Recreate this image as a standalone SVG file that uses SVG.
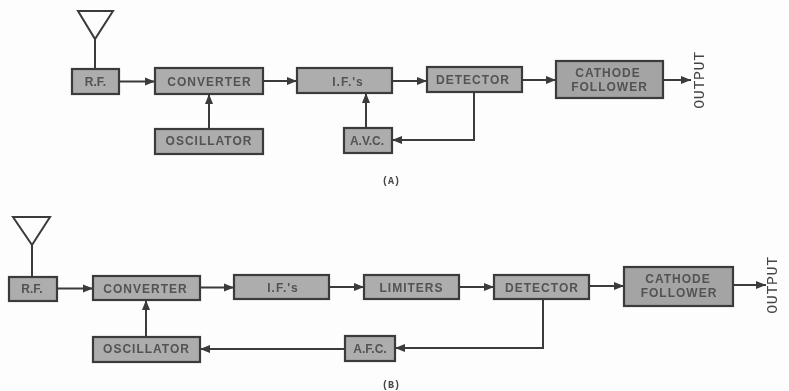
<svg xmlns="http://www.w3.org/2000/svg" width="789" height="391" viewBox="0 0 789 391">
<style>
.b{fill:#adadad;stroke:#3a3a3a;stroke-width:2.2}
.d{fill:#a4a4a4}
.t{font-family:"Liberation Sans",Arial,sans-serif;font-size:12px;font-weight:bold;fill:#525252;text-anchor:middle;letter-spacing:1px}
.n{letter-spacing:0}
.c{fill:none;stroke:#3a3a3a;stroke-width:2}
.a{fill:none;stroke:#3a3a3a;stroke-width:2}
.o{font-family:"Liberation Mono","DejaVu Sans Mono",monospace;font-size:15px;fill:#444;text-anchor:middle;letter-spacing:.6px}
.g{font-family:"Liberation Mono","DejaVu Sans Mono",monospace;font-size:10px;font-weight:bold;fill:#444;text-anchor:middle}
</style>
<defs>
<marker id="ah" markerUnits="userSpaceOnUse" markerWidth="11" markerHeight="9" refX="10" refY="4.5" orient="auto"><path d="M0 0.5L10 4.5L0 8.5z" fill="#3a3a3a"/></marker>
<filter id="s" x="-2%" y="-2%" width="104%" height="104%"><feGaussianBlur stdDeviation="0.45"/></filter>
</defs>
<rect width="789" height="391" fill="#fdfdfd"/>
<g filter="url(#s)">
<g id="connectors">
<path class="a" d="M78 11H113L95 39Z"/><path class="c" d="M95 39V69"/>
<path class="c" marker-end="url(#ah)" d="M119 81.500H155"/>
<path class="c" marker-end="url(#ah)" d="M263 81H297"/>
<path class="c" marker-end="url(#ah)" d="M392 81H427"/>
<path class="c" marker-end="url(#ah)" d="M522 80H556"/>
<path class="c" marker-end="url(#ah)" d="M663 80H691"/>
<path class="c" marker-end="url(#ah)" d="M209 129V94"/>
<path class="c" marker-end="url(#ah)" d="M366 128V93"/>
<path class="c" marker-end="url(#ah)" d="M474 92V140H392"/>
<path class="a" d="M13 217H50L32 245Z"/><path class="c" d="M32 245V277"/>
<path class="c" marker-end="url(#ah)" d="M57 288.500H93"/>
<path class="c" marker-end="url(#ah)" d="M200 287.500H234"/>
<path class="c" marker-end="url(#ah)" d="M329 287H364"/>
<path class="c" marker-end="url(#ah)" d="M459 287H494"/>
<path class="c" marker-end="url(#ah)" d="M589 286H624"/>
<path class="c" marker-end="url(#ah)" d="M733 285H766"/>
<path class="c" marker-end="url(#ah)" d="M146 337V300"/>
<path class="c" marker-end="url(#ah)" d="M345 349H200"/>
<path class="c" marker-end="url(#ah)" d="M543 299V348H395"/>
</g>
<g id="a-rf"><rect class="b" x="72" y="69" width="47" height="25"/><text class="t n" x="95.500" y="86">R.F.</text></g>
<g id="a-converter"><rect class="b" x="155" y="68" width="108" height="26"/><text class="t" x="209.500" y="85.500">CONVERTER</text></g>
<g id="a-ifs"><rect class="b" x="297" y="68" width="95" height="25"/><text class="t" x="348" y="86">I.F.'s</text></g>
<g id="a-detector"><rect class="b" x="427" y="67" width="95" height="25"/><text class="t" x="473" y="84">DETECTOR</text></g>
<g id="a-cathode"><rect class="b d" x="556" y="61" width="107" height="37"/><text class="t" x="608" y="76.500">CATHODE</text><text class="t" x="609.500" y="90.500">FOLLOWER</text></g>
<g id="a-oscillator"><rect class="b" x="155" y="129" width="108" height="25"/><text class="t" x="209" y="145">OSCILLATOR</text></g>
<g id="a-avc"><rect class="b" x="344" y="128" width="48" height="25"/><text class="t n" x="367" y="145">A.V.C.</text></g>
<text class="o" transform="translate(703.500 80) rotate(-90)">OUTPUT</text>
<text class="g" x="391" y="184">(A)</text>
<g id="b-rf"><rect class="b" x="9" y="277" width="48" height="24"/><text class="t n" x="32" y="293">R.F.</text></g>
<g id="b-converter"><rect class="b" x="93" y="276" width="107" height="24"/><text class="t" x="145.500" y="292.500">CONVERTER</text></g>
<g id="b-ifs"><rect class="b" x="234" y="275" width="95" height="24"/><text class="t" x="283" y="292">I.F.'s</text></g>
<g id="b-limiters"><rect class="b" x="364" y="275" width="95" height="24"/><text class="t" x="411.500" y="291.500">LIMITERS</text></g>
<g id="b-detector"><rect class="b" x="494" y="275" width="95" height="24"/><text class="t" x="542" y="291.500">DETECTOR</text></g>
<g id="b-cathode"><rect class="b d" x="624" y="267" width="109" height="39"/><text class="t" x="678" y="283">CATHODE</text><text class="t" x="679" y="297">FOLLOWER</text></g>
<g id="b-oscillator"><rect class="b" x="93" y="337" width="107" height="25"/><text class="t" x="146.500" y="353">OSCILLATOR</text></g>
<g id="b-afc"><rect class="b" x="345" y="336" width="50" height="25"/><text class="t n" x="370" y="353">A.F.C.</text></g>
<text class="o" transform="translate(776.500 285) rotate(-90)">OUTPUT</text>
<text class="g" x="391" y="388">(B)</text>
</g>
</svg>
